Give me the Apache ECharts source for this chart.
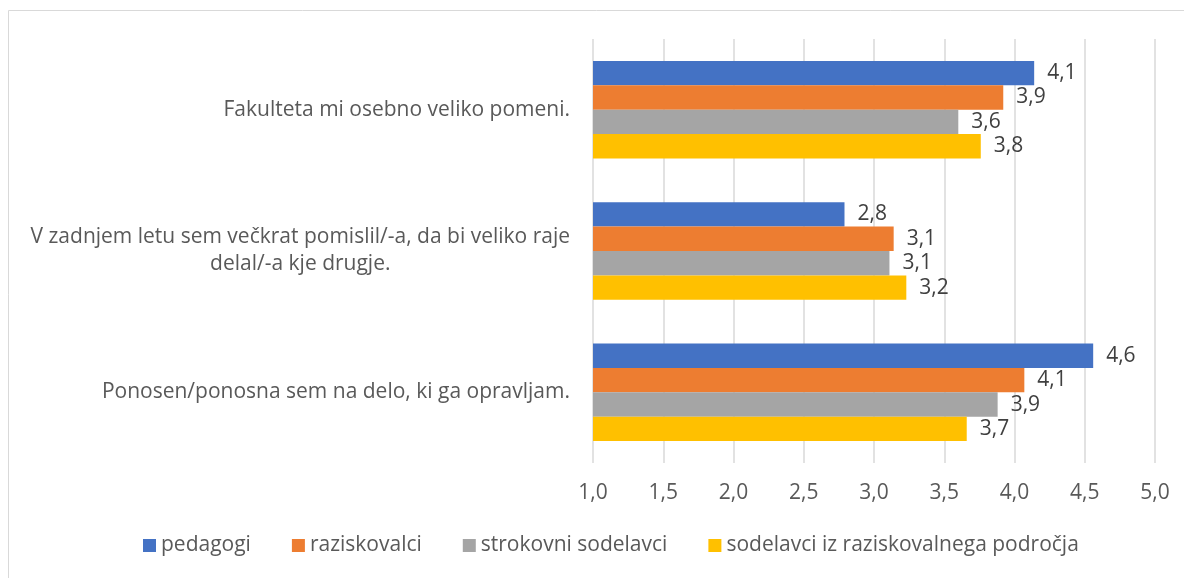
<!DOCTYPE html>
<html>
<head>
<meta charset="utf-8">
<script src="https://cdn.jsdelivr.net/npm/echarts@6/dist/echarts.min.js"></script>
<style>
  html, body { margin: 0; padding: 0; background: #fff; }
  #chart { width: 1184px; height: 578px; }
</style>
</head>
<body>
<div id="chart"></div>
<script>
// trditve (kategorije)
var categories = [
    'Fakulteta mi osebno veliko pomeni.',
    'V zadnjem letu sem večkrat pomislil/-a, da bi veliko raje\ndelal/-a kje drugje.',
    'Ponosen/ponosna sem na delo, ki ga opravljam.'
];
var seriesNames = ['pedagogi', 'raziskovalci', 'strokovni sodelavci', 'sodelavci iz raziskovalnega področja'];
var pedagogi = [4.14, 2.79, 4.56];
var raziskovalci = [3.92, 3.14, 4.07];
var strokovni = [3.60, 3.11, 3.88];
var sodelavci = [3.76, 3.23, 3.66];
var colors = ['#4472c4', '#ed7d31', '#a5a5a5', '#ffc000'];
var axisMin = 1, axisMax = 5, axisStep = 0.5;

var font = '"Open Sans", sans-serif';
var fs = 21;
var myChart = echarts.init(document.getElementById('chart'));

function comma(v, d) {
    return Number(v).toFixed(d).replace('.', ',');
}

var allValues = [pedagogi, raziskovalci, strokovni, sodelavci];
var series = [];
for (var k = 0; k < seriesNames.length; k++) {
    series.push({
        name: seriesNames[k],
        type: 'bar',
        data: allValues[k],
        barGap: '0%',
        barCategoryGap: '31%',
        itemStyle: { color: colors[k] },
        label: {
            show: true,
            position: 'right',
            distance: 13,
            color: '#404040',
            fontSize: fs,
            fontFamily: font,
            formatter: function (p) { return comma(p.value, 1); }
        }
    });
}

var option = {
    animation: false,
    color: colors,
    textStyle: { fontFamily: font },
    graphic: [{
        type: 'rect',
        shape: { x: 8.5, y: 10.5, width: 1200, height: 600 },
        style: { fill: 'none', stroke: '#d9d9d9', lineWidth: 1 },
        silent: true
    }],
    grid: { left: 593, right: 29, top: 39, bottom: 115 },
    legend: {
        bottom: 17,
        left: 138,
        itemWidth: 13,
        itemHeight: 13,
        itemGap: 41,
        icon: 'rect',
        textStyle: { color: '#595959', fontSize: fs, fontFamily: font },
        data: seriesNames
    },
    xAxis: {
        type: 'value',
        min: axisMin,
        max: axisMax,
        interval: axisStep,
        axisLine: { show: false },
        axisTick: { show: false },
        splitLine: { lineStyle: { color: '#d9d9d9', width: 1.5 } },
        axisLabel: {
            color: '#595959',
            fontSize: fs,
            fontFamily: font,
            margin: 20,
            formatter: function (v) { return comma(v, 1); }
        }
    },
    yAxis: {
        type: 'category',
        inverse: true,
        data: categories,
        axisLine: { show: false },
        axisTick: { show: false },
        axisLabel: {
            margin: 23,
            formatter: function (v) {
                return v.split('\n').map(function (s) { return '{c|' + s + '}'; }).join('\n');
            },
            rich: {
                c: {
                    color: '#595959',
                    fontSize: fs,
                    fontFamily: font,
                    lineHeight: 27,
                    align: 'center'
                }
            }
        }
    },
    series: series
};
myChart.setOption(option);
</script>
</body>
</html>
